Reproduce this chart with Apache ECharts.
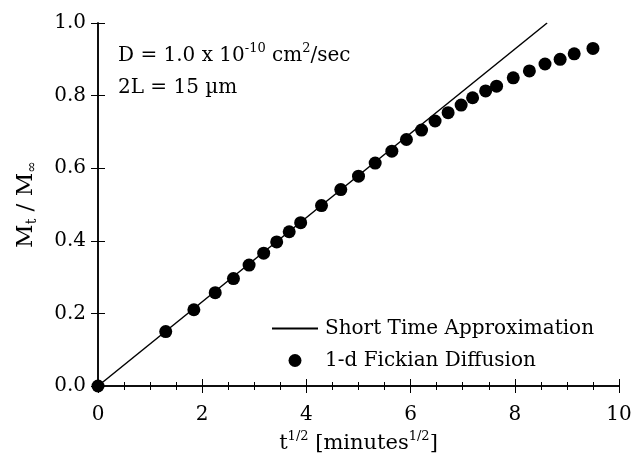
<!DOCTYPE html>
<html>
<head>
<meta charset="utf-8">
<script src="https://cdn.jsdelivr.net/npm/echarts@6/dist/echarts.min.js"></script>
<style>
  html, body { margin: 0; padding: 0; background: #fff; }
  #chart { width: 633px; height: 460px; }
</style>
</head>
<body>
<div id="chart"></div>
<script>
// 1-d Fickian diffusion points
const fickX = [0, 1.30, 1.84, 2.25, 2.60, 2.90, 3.18, 3.43, 3.67, 3.89, 4.29, 4.66, 5.00, 5.32, 5.64, 5.92,
  6.21, 6.47, 6.72, 6.97, 7.19, 7.44, 7.65, 7.97, 8.28, 8.58, 8.87, 9.14, 9.50]
const fickY = [0, 0.150, 0.210, 0.257, 0.296, 0.333, 0.366, 0.397, 0.425, 0.450, 0.497, 0.541, 0.578, 0.614, 0.647, 0.679,
  0.705, 0.730, 0.753, 0.774, 0.794, 0.813, 0.826, 0.849, 0.868, 0.887, 0.900, 0.915, 0.930]

// short time approximation (straight line)
const lineX = [0, 8.62]
const lineY = [0, 1.0]

const xTicks = [0, 2, 4, 6, 8, 10]
const yTicks = [0, 0.2, 0.4, 0.6, 0.8, 1.0]

const FONT = 'DejaVu Serif'

const chart = echarts.init(document.getElementById('chart'))

const zip = (xs, ys) => xs.map((x, i) => [x, ys[i]])

const axisCommon = {
  axisLine: { lineStyle: { color: '#000', width: 1.5 } },
  axisTick: { inside: true, length: 7, lineStyle: { color: '#000', width: 1 } },
  splitLine: { show: false },
}

const option = {
  backgroundColor: '#fff',
  animation: false,
  grid: { left: 98, right: 14, top: 23, bottom: 74, outerBoundsMode: 'none' },
  xAxis: [
    {
      type: 'value',
      min: xTicks[0],
      max: xTicks[xTicks.length - 1],
      interval: 2,
      ...axisCommon,
      minorTick: { show: true, splitNumber: 4, length: 4, lineStyle: { color: '#000' } },
      axisLabel: { color: '#000', fontFamily: FONT, fontSize: 20, margin: 19 },
      name: '{a|t}{s|1/2}{a| [minutes}{s|1/2}{a|]}',
      nameLocation: 'middle',
      nameGap: 45,
      nameTextStyle: {
        rich: {
          a: { fontFamily: FONT, fontSize: 21, color: '#000', lineHeight: 26 },
          s: { fontFamily: FONT, fontSize: 13, color: '#000', lineHeight: 26, padding: [0, 0, 14, 0] },
        },
      },
    },
    {
      type: 'value',
      position: 'top',
      min: xTicks[0],
      max: xTicks[xTicks.length - 1],
      interval: 2,
      ...axisCommon,
      minorTick: { show: true, splitNumber: 4, length: 4, lineStyle: { color: '#000' } },
      axisLabel: { show: false },
    },
  ],
  yAxis: [
    {
      type: 'value',
      min: yTicks[0],
      max: yTicks[yTicks.length - 1],
      interval: 0.2,
      ...axisCommon,
      axisLabel: {
        color: '#000', fontFamily: FONT, fontSize: 20, margin: 12,
        formatter: (v) => v.toFixed(1),
      },
      name: '{a|M}{t|t}{a| / M}{t|∞}',
      nameLocation: 'middle',
      nameRotate: 90,
      nameGap: 58,
      nameTextStyle: {
        rich: {
          a: { fontFamily: FONT, fontSize: 23, color: '#000', lineHeight: 28 },
          t: { fontFamily: FONT, fontSize: 14, color: '#000', lineHeight: 28, padding: [12, 0, 0, 0] },
        },
      },
    },
    {
      type: 'value',
      position: 'right',
      min: yTicks[0],
      max: yTicks[yTicks.length - 1],
      interval: 0.2,
      ...axisCommon,
      axisLabel: { show: false },
    },
  ],
  legend: {
    orient: 'vertical',
    left: 266,
    top: 312,
    itemWidth: 46,
    itemHeight: 13,
    itemGap: 9,
    data: [
      { name: 'Short Time Approximation', itemStyle: { opacity: 0 } },
      { name: '1-d Fickian Diffusion' },
    ],
    textStyle: { color: '#000', fontFamily: FONT, fontSize: 20, lineHeight: 23, padding: [0, 0, 0, 2] },
  },
  graphic: [
    {
      type: 'text',
      left: 118,
      top: 42,
      style: {
        text: '{a|D = 1.0 x 10}{s|-10}{a| cm}{s|2}{a|/sec}\n{a|2L = 15 µm}',
        rich: {
          a: { fontFamily: FONT, fontSize: 20, fill: '#000', lineHeight: 32 },
          s: { fontFamily: FONT, fontSize: 13, fill: '#000', lineHeight: 32, padding: [0, 0, 14, 0] },
        },
      },
    },
  ],
  series: [
    {
      name: 'Short Time Approximation',
      type: 'line',
      data: zip(lineX, lineY),
      symbol: 'none',
      itemStyle: { color: '#000' },
      lineStyle: { color: '#000', width: 1.5 },
      z: 2,
    },
    {
      name: '1-d Fickian Diffusion',
      type: 'scatter',
      data: zip(fickX, fickY),
      symbol: 'circle',
      symbolSize: 13,
      itemStyle: { color: '#000', opacity: 1 },
      clip: false,
      z: 3,
    },
  ],
}

chart.setOption(option)
</script>
</body>
</html>
